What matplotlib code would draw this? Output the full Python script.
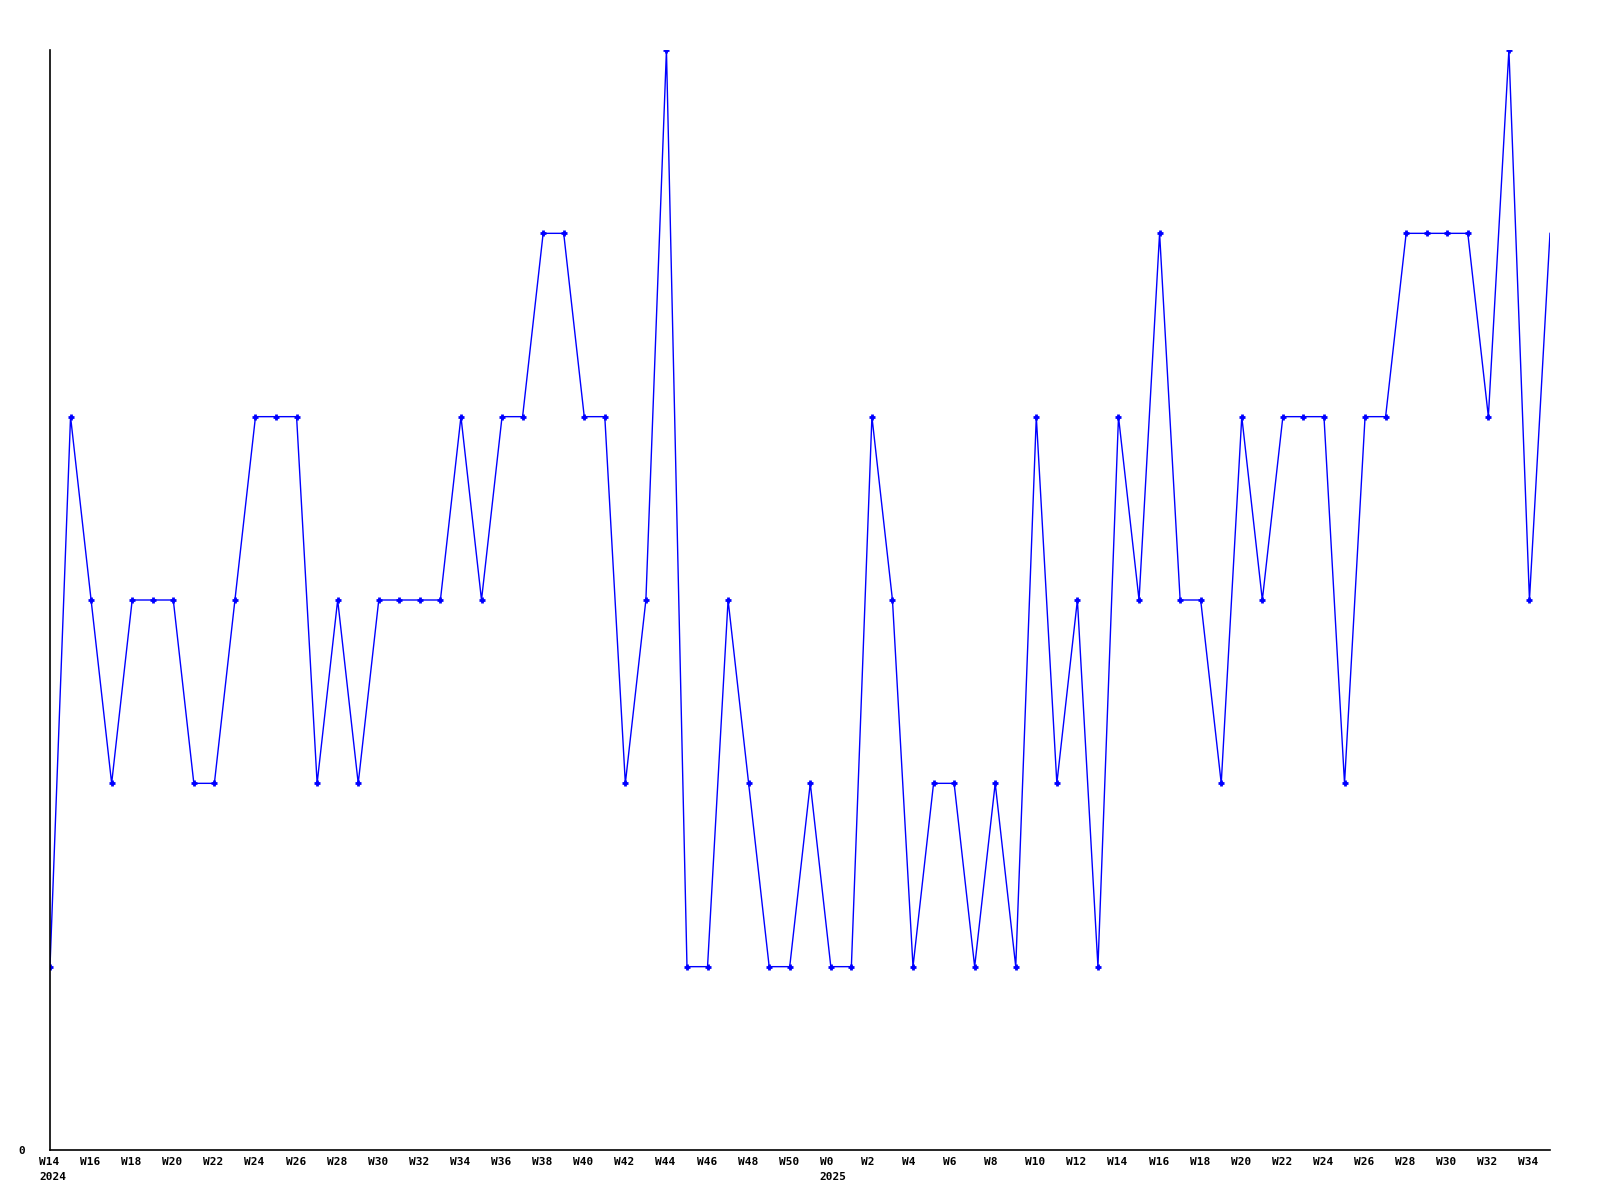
import matplotlib
matplotlib.use("Agg")
import matplotlib.pyplot as plt
import matplotlib.transforms as mtransforms

# semanas (formato %W) e contagens
semanas_2024 = list(range(14, 52))
semanas_2025 = list(range(0, 36))
valores = [1, 4, 3, 2, 3, 3, 3, 2, 2, 3, 4, 4, 4, 2, 3, 2, 3, 3, 3, 3,
           4, 3, 4, 4, 5, 5, 4, 4, 2, 3, 6, 1, 1, 3, 2, 1, 1, 2,
           1, 1, 4, 3, 1, 2, 2, 1, 2, 1, 4, 2, 3, 1, 4, 3, 5, 3, 3, 2,
           4, 3, 4, 4, 4, 2, 4, 4, 5, 5, 5, 5, 4, 6, 3, 5]

rotulos = ["W%d" % s for s in semanas_2024] + ["W%d" % s for s in semanas_2025]
rotulos[0] += "\n2024"
rotulos[len(semanas_2024)] += "\n2025"
x = list(range(len(valores)))

fig = plt.figure(figsize=(16, 12), dpi=100)
ax = fig.add_axes([50 / 1600, 50 / 1200, 1500 / 1600, 1100 / 1200])

# o último ponto fica na borda, sem marcador
ax.plot(x, valores, color="#0000ff", linewidth=1.0, marker="+",
        markersize=4, markeredgewidth=2, markevery=x[:-1])

ax.set_xlim(0, len(valores) - 1)
ax.set_ylim(0, 6)

ax.spines["top"].set_visible(False)
ax.spines["right"].set_visible(False)
ax.spines["left"].set_linewidth(1.2)
ax.spines["bottom"].set_linewidth(1.2)

ax.set_yticks([0])
ax.set_yticklabels(["0"], fontfamily="DejaVu Sans Mono", fontweight="bold", fontsize=8)
ax.tick_params(axis="y", length=0, pad=18)

ticks = x[::2]
ax.set_xticks(ticks)
ax.set_xticklabels(rotulos[::2], fontfamily="DejaVu Sans Mono", fontweight="bold",
                   fontsize=8, ha="left", linespacing=1.6)
ax.tick_params(axis="x", length=0, pad=5)

# desloca os rótulos do eixo x um pouco para a esquerda
desloc = mtransforms.ScaledTranslation(-11 / 100, 0, fig.dpi_scale_trans)
for lbl in ax.get_xticklabels():
    lbl.set_transform(lbl.get_transform() + desloc)

fig.savefig("out.png", dpi=100)
